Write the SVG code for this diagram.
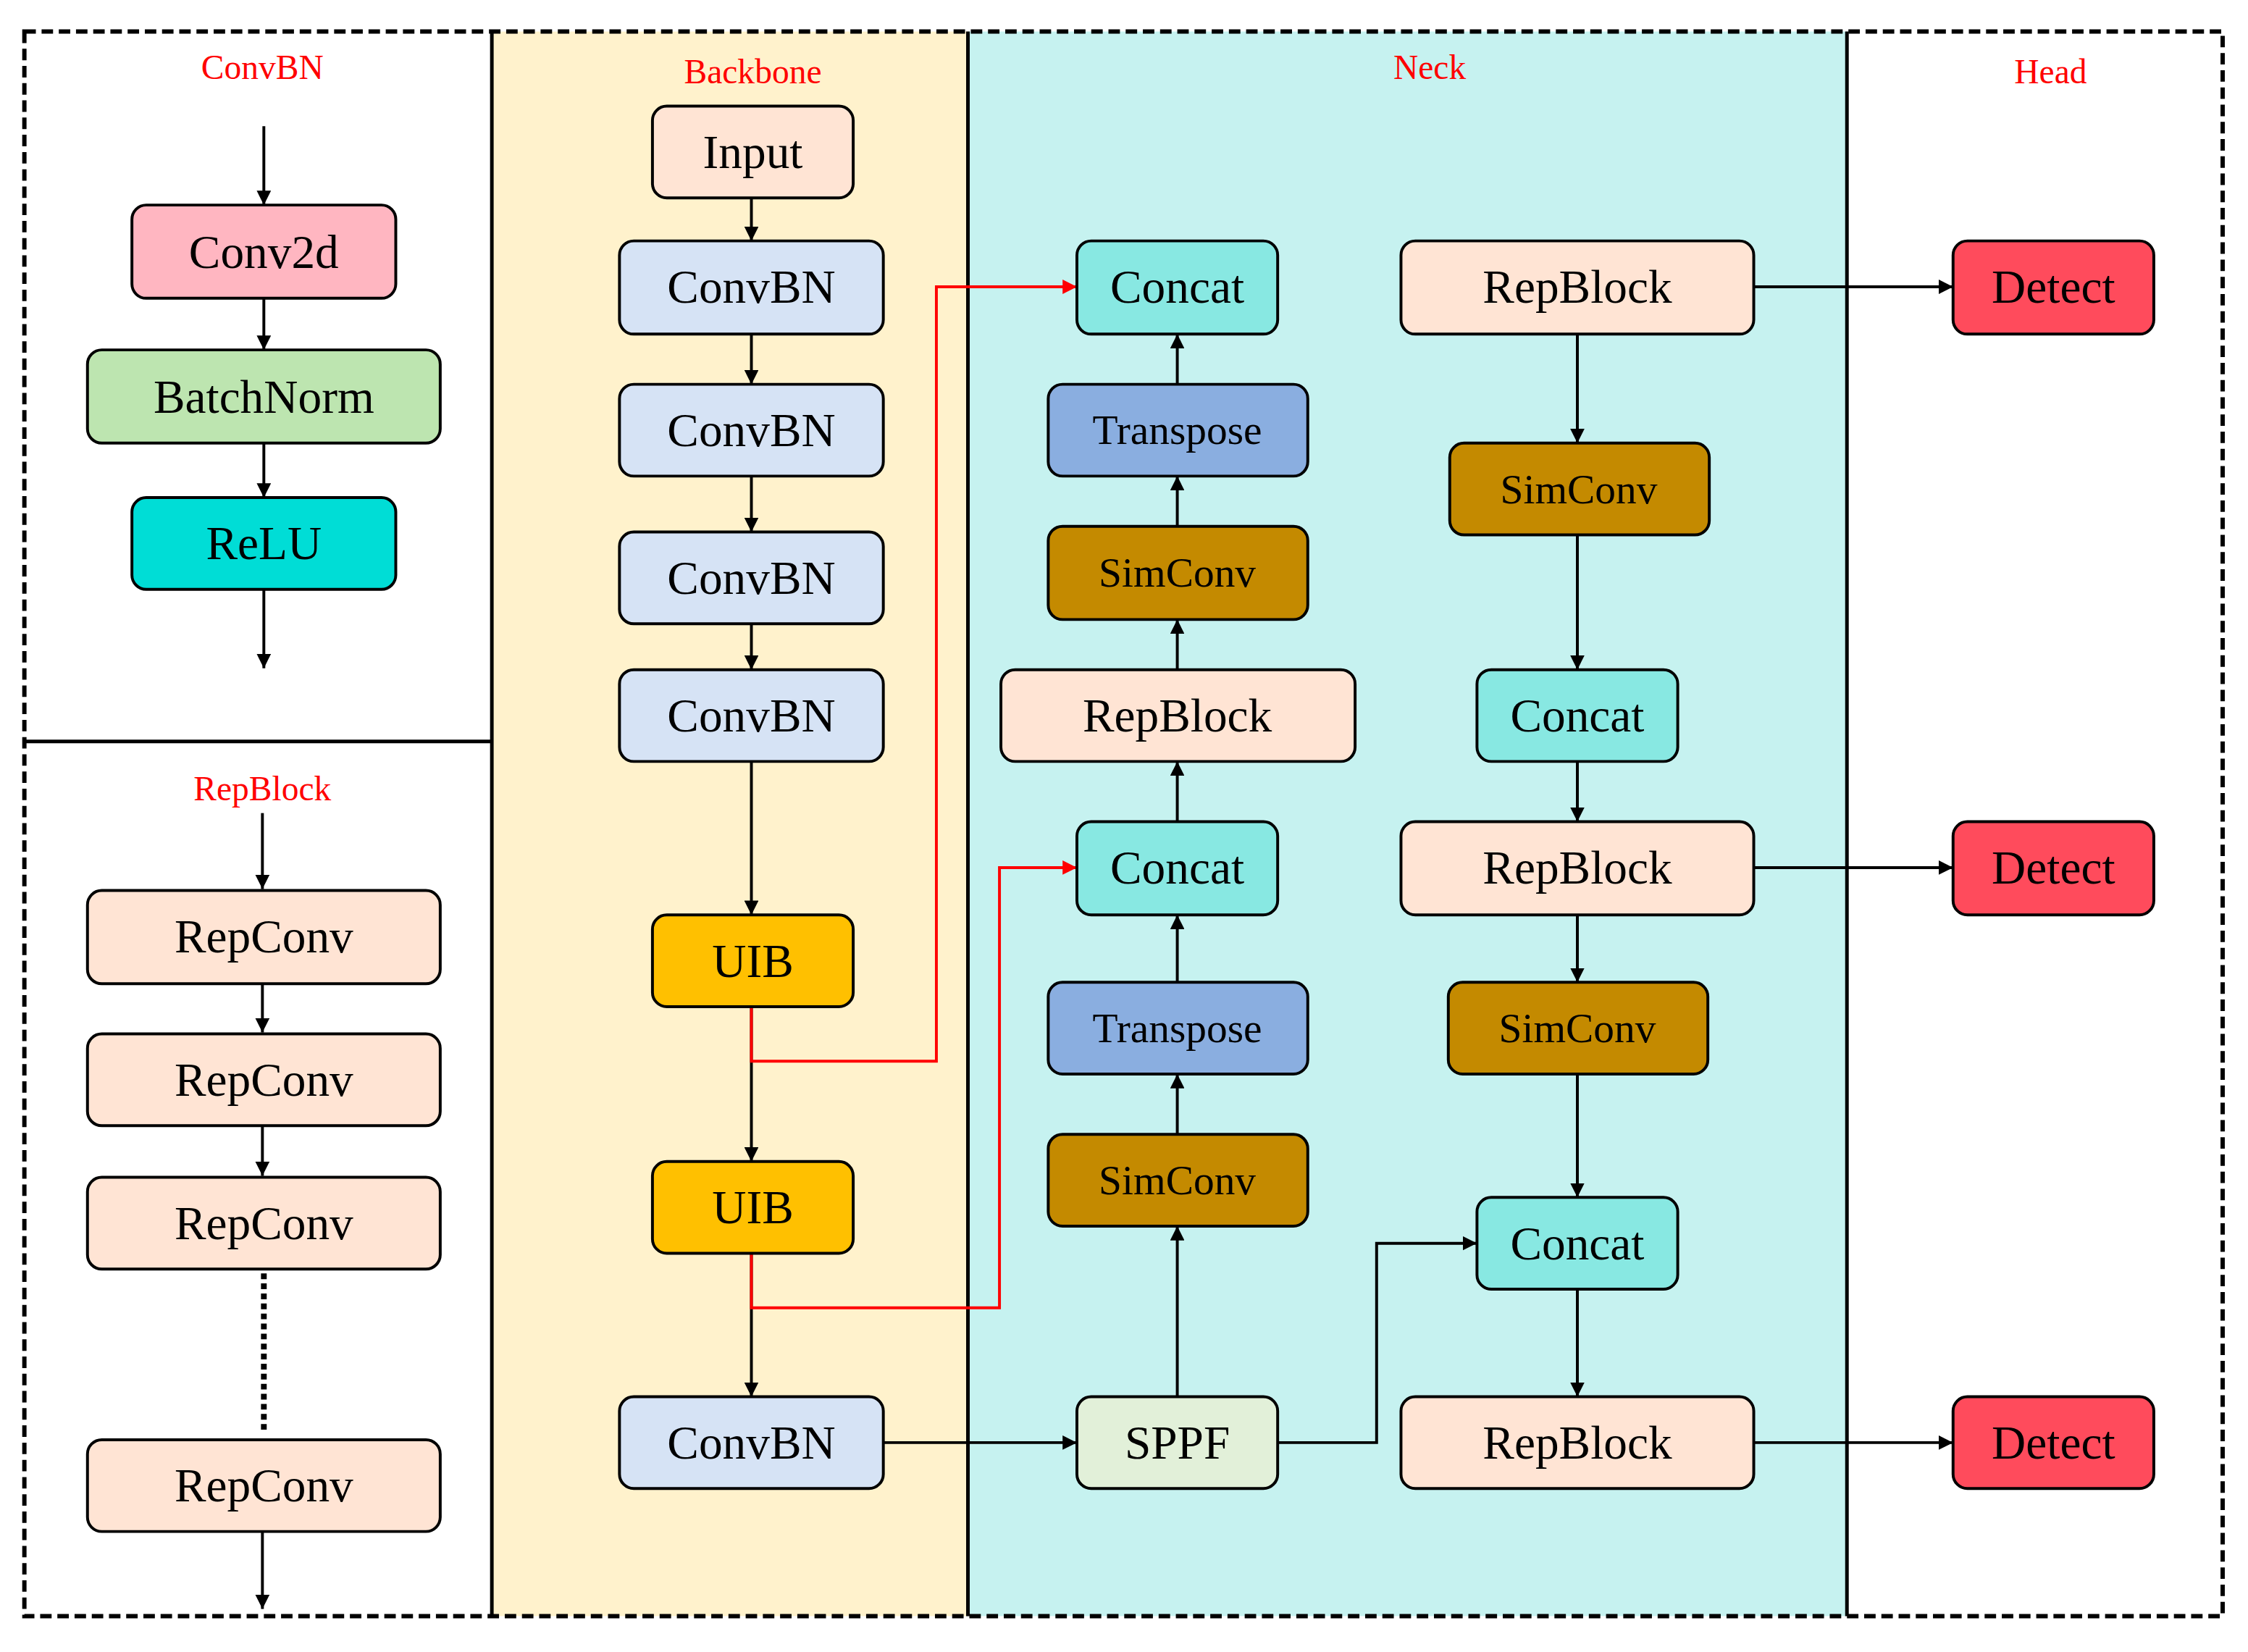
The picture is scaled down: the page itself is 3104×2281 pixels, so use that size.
<svg xmlns="http://www.w3.org/2000/svg" width="3104" height="2281" viewBox="0 0 3104 2281">
<defs>
<marker id="ah" viewBox="0 0 10 10" refX="10" refY="5" markerWidth="5" markerHeight="5" orient="auto"><path d="M0,0L10,5L0,10z" fill="#000"/></marker>
<marker id="ahr" viewBox="0 0 10 10" refX="10" refY="5" markerWidth="5" markerHeight="5" orient="auto"><path d="M0,0L10,5L0,10z" fill="#f00"/></marker>
<style>
.n rect{stroke:#000;stroke-width:2}
.n text{font-family:"Liberation Serif",serif;font-size:33px;text-anchor:middle;dominant-baseline:central}
.t{font-family:"Liberation Serif",serif;font-size:24px;fill:#f00;text-anchor:middle}
.c path{fill:none;stroke:#000;stroke-width:2;marker-end:url(#ah)}
.c path.r{stroke:#f00;marker-end:url(#ahr)}
</style>
</defs>
<rect width="3104" height="2281" fill="#fff"/>
<g transform="scale(1.98)">
<g id="panels">
<rect x="343" y="22" width="332" height="1105" fill="#FFF2CC"/>
<rect x="675" y="22" width="613" height="1105" fill="#C6F2F0"/>
<rect x="17" y="22" width="1533" height="1105" fill="none" stroke="#000" stroke-width="3" stroke-dasharray="8,4"/>
<path d="M343,22V1127M675,22V1127M1288,22V1127M17,517H343" stroke="#000" stroke-width="2.5" fill="none"/>
<text class="t" x="183" y="55">ConvBN</text>
<text class="t" x="525" y="58">Backbone</text>
<text class="t" x="997" y="55">Neck</text>
<text class="t" x="1430" y="58">Head</text>
<text class="t" x="183" y="558">RepBlock</text>
</g>
<g class="c" id="connectors">
<path d="M184,88V143"/><path d="M184,208V244"/><path d="M184,309V347"/><path d="M184,411V466"/>
<path d="M183,567V620"/><path d="M183,686V720"/><path d="M183,785V820"/><path d="M183,1068V1122"/>
<path d="M184,888V1000" style="marker-end:none;stroke-width:4;stroke-dasharray:4,3"/>
<path d="M524,138V168"/><path d="M524,233V268"/><path d="M524,332V371"/><path d="M524,435V467"/><path d="M524,531V638"/><path d="M524,702V810"/><path d="M524,874V974"/>
<path class="r" d="M524,702V740H653V200H751"/>
<path class="r" d="M524,874V912H697V605H751"/>
<path d="M616,1006H751"/>
<path d="M821,268V233"/><path d="M821,367V332"/><path d="M821,467V432"/><path d="M821,573V531"/><path d="M821,685V638"/><path d="M821,791V749"/><path d="M821,974V855"/>
<path d="M891,1006H960V867H1030"/>
<path d="M1100,233V309"/><path d="M1100,373V467"/><path d="M1100,531V573"/><path d="M1100,638V685"/><path d="M1100,749V835"/><path d="M1100,899V974"/>
<path d="M1223,200H1362"/><path d="M1223,605H1362"/><path d="M1223,1006H1362"/>
</g>
<g id="conv2d" class="n"><rect x="92" y="143" width="184" height="65" rx="10" fill="#FFB6C1"/><text x="184" y="176">Conv2d</text></g>
<g id="batchnorm" class="n"><rect x="61" y="244" width="246" height="65" rx="10" fill="#BDE5B0"/><text x="184" y="277">BatchNorm</text></g>
<g id="relu" class="n"><rect x="92" y="347" width="184" height="64" rx="10" fill="#00DDD6"/><text x="184" y="379">ReLU</text></g>
<g id="repconv1" class="n"><rect x="61" y="621" width="246" height="65" rx="10" fill="#FFE4D4"/><text x="184" y="653">RepConv</text></g>
<g id="repconv2" class="n"><rect x="61" y="721" width="246" height="64" rx="10" fill="#FFE4D4"/><text x="184" y="753">RepConv</text></g>
<g id="repconv3" class="n"><rect x="61" y="821" width="246" height="64" rx="10" fill="#FFE4D4"/><text x="184" y="853">RepConv</text></g>
<g id="repconv4" class="n"><rect x="61" y="1004" width="246" height="64" rx="10" fill="#FFE4D4"/><text x="184" y="1036">RepConv</text></g>
<g id="input" class="n"><rect x="455" y="74" width="140" height="64" rx="10" fill="#FFE4D4"/><text x="525" y="106">Input</text></g>
<g id="cbn1" class="n"><rect x="432" y="168" width="184" height="65" rx="10" fill="#D6E3F5"/><text x="524" y="200">ConvBN</text></g>
<g id="cbn2" class="n"><rect x="432" y="268" width="184" height="64" rx="10" fill="#D6E3F5"/><text x="524" y="300">ConvBN</text></g>
<g id="cbn3" class="n"><rect x="432" y="371" width="184" height="64" rx="10" fill="#D6E3F5"/><text x="524" y="403">ConvBN</text></g>
<g id="cbn4" class="n"><rect x="432" y="467" width="184" height="64" rx="10" fill="#D6E3F5"/><text x="524" y="499">ConvBN</text></g>
<g id="uib1" class="n"><rect x="455" y="638" width="140" height="64" rx="10" fill="#FFC000"/><text x="525" y="670">UIB</text></g>
<g id="uib2" class="n"><rect x="455" y="810" width="140" height="64" rx="10" fill="#FFC000"/><text x="525" y="842">UIB</text></g>
<g id="cbn5" class="n"><rect x="432" y="974" width="184" height="64" rx="10" fill="#D6E3F5"/><text x="524" y="1006">ConvBN</text></g>
<g id="concat1" class="n"><rect x="751" y="168" width="140" height="65" rx="10" fill="#88E8E2"/><text x="821" y="200">Concat</text></g>
<g id="transpose1" class="n"><rect x="731" y="268" width="181" height="64" rx="10" fill="#8AAEE0"/><text x="821" y="300" style="font-size:29px">Transpose</text></g>
<g id="simconv1" class="n"><rect x="731" y="367" width="181" height="65" rx="10" fill="#C48A00"/><text x="821" y="399" style="font-size:29px">SimConv</text></g>
<g id="repblock1" class="n"><rect x="698" y="467" width="247" height="64" rx="10" fill="#FFE4D4"/><text x="821" y="499">RepBlock</text></g>
<g id="concat2" class="n"><rect x="751" y="573" width="140" height="65" rx="10" fill="#88E8E2"/><text x="821" y="605">Concat</text></g>
<g id="transpose2" class="n"><rect x="731" y="685" width="181" height="64" rx="10" fill="#8AAEE0"/><text x="821" y="717" style="font-size:29px">Transpose</text></g>
<g id="simconv2" class="n"><rect x="731" y="791" width="181" height="64" rx="10" fill="#C48A00"/><text x="821" y="823" style="font-size:29px">SimConv</text></g>
<g id="sppf" class="n"><rect x="751" y="974" width="140" height="64" rx="10" fill="#E2F0D9"/><text x="821" y="1006">SPPF</text></g>
<g id="repblock2" class="n"><rect x="977" y="168" width="246" height="65" rx="10" fill="#FFE4D4"/><text x="1100" y="200">RepBlock</text></g>
<g id="simconv3" class="n"><rect x="1011" y="309" width="181" height="64" rx="10" fill="#C48A00"/><text x="1101" y="341" style="font-size:29px">SimConv</text></g>
<g id="concat3" class="n"><rect x="1030" y="467" width="140" height="64" rx="10" fill="#88E8E2"/><text x="1100" y="499">Concat</text></g>
<g id="repblock3" class="n"><rect x="977" y="573" width="246" height="65" rx="10" fill="#FFE4D4"/><text x="1100" y="605">RepBlock</text></g>
<g id="simconv4" class="n"><rect x="1010" y="685" width="181" height="64" rx="10" fill="#C48A00"/><text x="1100" y="717" style="font-size:29px">SimConv</text></g>
<g id="concat4" class="n"><rect x="1030" y="835" width="140" height="64" rx="10" fill="#88E8E2"/><text x="1100" y="867">Concat</text></g>
<g id="repblock4" class="n"><rect x="977" y="974" width="246" height="64" rx="10" fill="#FFE4D4"/><text x="1100" y="1006">RepBlock</text></g>
<g id="detect1" class="n"><rect x="1362" y="168" width="140" height="65" rx="10" fill="#FF4B5C"/><text x="1432" y="200">Detect</text></g>
<g id="detect2" class="n"><rect x="1362" y="573" width="140" height="65" rx="10" fill="#FF4B5C"/><text x="1432" y="605">Detect</text></g>
<g id="detect3" class="n"><rect x="1362" y="974" width="140" height="64" rx="10" fill="#FF4B5C"/><text x="1432" y="1006">Detect</text></g>
</g>
</svg>
